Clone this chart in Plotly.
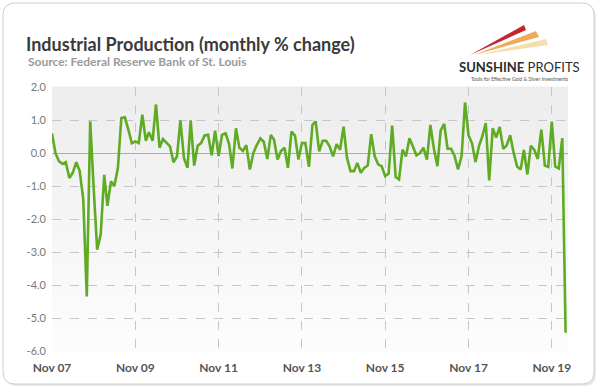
import pandas as pd
import plotly.graph_objects as go

# ---- data ----
start_month = "2007-11-01"
ip_change = [
    0.59, 0.0, -0.25, -0.33, -0.28, -0.76, -0.6, -0.28, -0.55, -1.4,
    -4.35, 0.96, -1.1, -2.93, -2.47, -0.66, -1.6, -0.86, -1.0, -0.45,
    1.06, 1.08, 0.7, 0.3, 0.35, 0.3, 1.16, 0.37, 0.63, 0.37,
    1.47, 0.16, 0.42, 0.3, 0.2, -0.28, -0.1, 0.99, -0.15, -0.45,
    0.99, -0.38, 0.22, 0.3, 0.53, 0.55, -0.07, 0.68, -0.09, 0.55,
    0.6, 0.27, -0.47, 0.75, 0.16, 0.06, 0.24, -0.5, 0.0, 0.24,
    0.44, 0.34, -0.18, 0.55, 0.4, -0.2, 0.06, 0.16, -0.45, 0.65,
    0.53, -0.2, 0.3, 0.3, -0.42, 0.85, 0.96, 0.05, 0.37, 0.37,
    0.2, -0.1, 0.27, 0.1, 0.8, -0.15, -0.55, -0.55, -0.3, -0.6,
    -0.45, -0.38, 0.57, -0.1, -0.35, -0.4, -0.7, -0.62, 0.83, -0.73,
    -0.8, 0.1, -0.1, 0.45, 0.22, -0.07, 0.0, 0.16, -0.2, 0.85,
    0.13, -0.4, 0.68, 0.88, 0.13, 0.13, -0.09, -0.5, -0.09, 1.53,
    0.53, 0.3, -0.27, 0.22, 0.5, 0.91, -0.83, 0.75, 0.47, 0.79,
    0.13, 0.23, 0.54, 0.01, -0.41, -0.5, 0.09, -0.65, 0.22, 0.09,
    -0.18, 0.71, -0.38, -0.42, 0.95, -0.41, -0.47, 0.45, -5.45,
]
months = pd.date_range(start_month, periods=len(ip_change), freq="MS")

x_tick_vals = ["2007-11-01", "2009-11-01", "2011-11-01", "2013-11-01",
               "2015-11-01", "2017-11-01", "2019-11-01"]
x_tick_text = ["Nov 07", "Nov 09", "Nov 11", "Nov 13", "Nov 15", "Nov 17", "Nov 19"]
y_tick_vals = [-6, -5, -4, -3, -2, -1, 0, 1, 2]
y_tick_text = ["-6.0", "-5.0", "-4.0", "-3.0", "-2.0", "-1.0", "0.0", "1.0", "2.0"]

title_text = "Industrial Production (monthly % change)"
subtitle_text = "Source: Federal Reserve Bank of St. Louis"

# ---- layout geometry ----
W, H = 600, 388
L, R, T, B = 52, 32, 87, 37
PW, PH = W - L - R, H - T - B


def px(x):
    return (x - L) / PW


def py(y):
    return (H - B - y) / PH


def rounded_rect(x0, y0, x1, y1, r):
    pts = [
        f"M {px(x0 + r)},{py(y0)}",
        f"L {px(x1 - r)},{py(y0)}",
        f"Q {px(x1)},{py(y0)} {px(x1)},{py(y0 + r)}",
        f"L {px(x1)},{py(y1 - r)}",
        f"Q {px(x1)},{py(y1)} {px(x1 - r)},{py(y1)}",
        f"L {px(x0 + r)},{py(y1)}",
        f"Q {px(x0)},{py(y1)} {px(x0)},{py(y1 - r)}",
        f"L {px(x0)},{py(y0 + r)}",
        f"Q {px(x0)},{py(y0)} {px(x0 + r)},{py(y0)}",
        "Z",
    ]
    return " ".join(pts)


def poly(points):
    return "M " + " L ".join(f"{px(a)},{py(b)}" for a, b in points) + " Z"


shapes = []
# outer frame shadow + frame
shapes.append(dict(type="path", xref="paper", yref="paper", layer="below",
                   path=rounded_rect(5, 5, 596, 386, 12),
                   fillcolor="#e8e8e8", line=dict(width=0)))
shapes.append(dict(type="path", xref="paper", yref="paper", layer="below",
                   path=rounded_rect(3, 3, 594, 384, 12),
                   fillcolor="white", line=dict(color="#cfcfcf", width=1)))
# plot background gradient
n = 30
for k in range(n):
    t = k / n
    c0 = (237, 237, 237)
    c1 = (253, 253, 253)
    c = tuple(int(round(c0[j] + (c1[j] - c0[j]) * t)) for j in range(3))
    shapes.append(dict(type="rect", xref="paper", yref="paper", layer="below",
                       x0=0, x1=1, y0=1 - (k + 1) / n, y1=1 - k / n + 0.002,
                       fillcolor=f"rgb{c}", line=dict(width=0)))
# logo streaks
shapes.append(dict(type="path", xref="paper", yref="paper", layer="above",
                   path=poly([(470, 55), (524, 25), (526, 30)]),
                   fillcolor="#c4262e", line=dict(width=0)))
shapes.append(dict(type="path", xref="paper", yref="paper", layer="above",
                   path=poly([(474, 55), (536, 31), (539, 37)]),
                   fillcolor="rgba(232,150,50,0.8)", line=dict(width=0)))
shapes.append(dict(type="path", xref="paper", yref="paper", layer="above",
                   path=poly([(478, 55), (546, 39), (548, 45)]),
                   fillcolor="rgba(240,205,130,0.65)", line=dict(width=0)))

annotations = [
    dict(text=f"<b>{title_text}</b>", xref="paper", yref="paper",
         x=px(24), y=py(44), xanchor="left", yanchor="middle", showarrow=False,
         font=dict(family="Lato", size=18, color="#3a3a3a")),
    dict(text=f"<b>{subtitle_text}</b>", xref="paper", yref="paper",
         x=px(26), y=py(62), xanchor="left", yanchor="middle", showarrow=False,
         font=dict(family="Lato", size=12, color="#9a9a9a")),
    dict(text="<b>SUNSHINE</b> PROFITS", xref="paper", yref="paper",
         x=px(519), y=py(67), xanchor="center", yanchor="middle", showarrow=False,
         font=dict(family="Lato", size=13, color="#2b2b2b")),
    dict(text="Tools for Effective Gold &amp; Silver Investments", xref="paper", yref="paper",
         x=px(519), y=py(79), xanchor="center", yanchor="middle", showarrow=False,
         font=dict(family="Lato", size=5, color="#555555")),
]

fig = go.Figure()
fig.add_trace(go.Scatter(
    x=months, y=ip_change, mode="lines",
    line=dict(color="#5fab23", width=2.6),
    hoverinfo="x+y", showlegend=False,
))

fig.update_layout(
    width=W, height=H,
    margin=dict(l=L, r=R, t=T, b=B),
    paper_bgcolor="white",
    plot_bgcolor="rgba(0,0,0,0)",
    shapes=shapes,
    annotations=annotations,
    xaxis=dict(
        range=["2007-11-01", "2020-03-22"],
        tickvals=x_tick_vals, ticktext=x_tick_text,
        showgrid=True, gridcolor="#c6c6c6", griddash="dash", gridwidth=1,
        zeroline=False, showline=False, ticks="",
        ticklabelstandoff=8,
        tickfont=dict(family="Lato", size=12, color="#555555", weight="bold"),
    ),
    yaxis=dict(
        range=[-6, 2],
        tickvals=y_tick_vals, ticktext=y_tick_text,
        showgrid=True, gridcolor="#c6c6c6", griddash="dash", gridwidth=1,
        zeroline=True, zerolinecolor="#ababab", zerolinewidth=1,
        showline=False, ticks="",
        ticklabelstandoff=5,
        tickfont=dict(family="Lato", size=11, color="#777777"),
    ),
)

fig.write_html("out.html", config={"displayModeBar": False},
               post_script="document.body.style.margin='0';document.body.style.overflow='hidden';")
